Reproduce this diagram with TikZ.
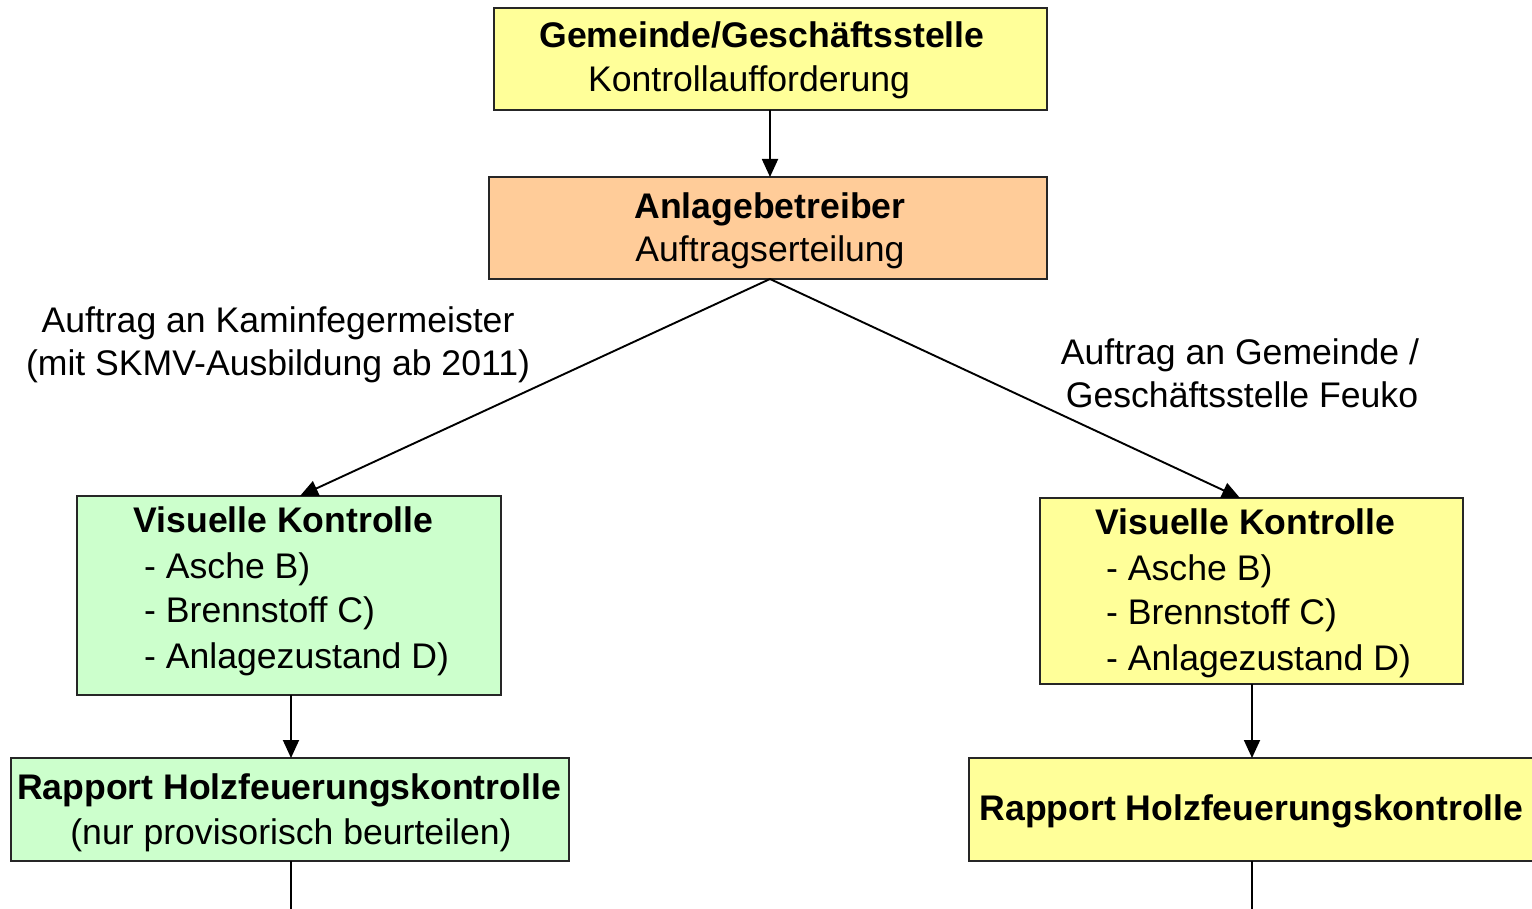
\documentclass[tikz,border=0pt]{standalone}
\usepackage{fontspec}
\setmainfont{Liberation Sans}
\usetikzlibrary{arrows.meta,calc}
\definecolor{boxyellow}{HTML}{FFFF99}
\definecolor{boxorange}{HTML}{FFCC99}
\definecolor{boxgreen}{HTML}{CCFFCC}
\tikzset{
  box/.style={draw=black!85, line width=1.8pt, inner sep=0pt, outer sep=0pt},
  txt/.style={inner sep=0pt, anchor=base, font=\fontsize{35.6}{44}\selectfont},
  btxt/.style={txt, font=\fontsize{35.6}{44}\selectfont\bfseries},
  ltxt/.style={txt, anchor=base west},
  conn/.style={line width=1.9pt, -{Triangle[length=18pt,width=16pt]}},
  plain/.style={line width=1.9pt}
}
\begin{document}
\begin{tikzpicture}[x=1pt,y=-1pt]
\useasboundingbox (0,0) rectangle (1532,909);
% boxes
\node[box, fill=boxyellow, minimum width=553pt, minimum height=102pt] (b1) at (770.5,59) {};
\node[box, fill=boxorange, minimum width=558pt, minimum height=102pt] (b2) at (768,228) {};
\node[box, fill=boxgreen, minimum width=424pt, minimum height=199pt] (b3) at (289,595.5) {};
\node[box, fill=boxyellow, minimum width=423pt, minimum height=186pt] (b4) at (1251.5,591) {};
\node[box, fill=boxgreen, minimum width=558pt, minimum height=103pt] (b5) at (290,809.5) {};
\node[box, fill=boxyellow, minimum width=580pt, minimum height=103pt] (b6) at (1259,809.5) {};
% texts
\node[btxt] (t1a) at (762,48) {Gemeinde/Geschäftsstelle};
\node[txt] (t1b) at (749,92) {Kontrollaufforderung};
\node[btxt] (t2a) at (770,219) {Anlagebetreiber};
\node[txt] (t2b) at (770,262) {Auftragserteilung};
\node[btxt] (t3a) at (283.5,532) {Visuelle Kontrolle};
\node[ltxt] (t3b) at (144,578) {- Asche B)};
\node[ltxt] (t3c) at (144,622) {- Brennstoff C)};
\node[ltxt] (t3d) at (144,668) {- Anlagezustand D)};
\node[btxt] (t4a) at (1245.5,534) {Visuelle Kontrolle};
\node[ltxt] (t4b) at (1106,580) {- Asche B)};
\node[ltxt] (t4c) at (1106,624) {- Brennstoff C)};
\node[ltxt] (t4d) at (1106,670) {- Anlagezustand D)};
\node[btxt] (t5a) at (289,799) {Rapport Holzfeuerungskontrolle};
\node[txt] (t5b) at (291,844) {(nur provisorisch beurteilen)};
\node[btxt] (t6a) at (1251.5,820) {Rapport Holzfeuerungskontrolle};
% labels
\node[txt] (l1a) at (278,333) {Auftrag an Kaminfegermeister};
\node[txt] (l1b) at (278,376) {(mit SKMV-Ausbildung ab 2011)};
\node[txt] (l2a) at (1240,364) {Auftrag an Gemeinde /};
\node[txt] (l2b) at (1242,407) {Geschäftsstelle Feuko};
% connectors
\coordinate (top) at (770,279);
\coordinate (in3) at (300,496);
\coordinate (in4) at (1240,498);
\coordinate (end5) at (291,915);
\coordinate (end6) at (1252,915);
\draw[conn] (b1.south -| top) -- (b2.north -| top);
\draw[conn] (top) -- (in3);
\draw[conn] (top) -- (in4);
\draw[conn] (b3.south -| end5) -- (b5.north -| end5);
\draw[conn] (b4.south -| end6) -- (b6.north -| end6);
\draw[plain] (b5.south -| end5) -- (end5);
\draw[plain] (b6.south -| end6) -- (end6);
\end{tikzpicture}
\end{document}
